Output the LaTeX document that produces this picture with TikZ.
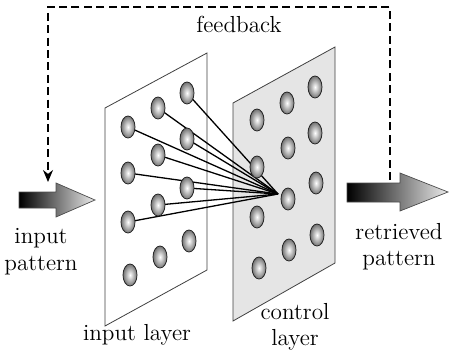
\documentclass[tikz,border=0pt]{standalone}
\usetikzlibrary{shapes.geometric,arrows.meta}
\begin{document}
\begin{tikzpicture}[x=0.5pt,y=-0.5pt,
  plane/.style={draw=black!75,line width=0.4pt},
  ball/.style={ellipse,minimum width=7pt,minimum height=11pt,inner sep=0pt,
    draw=black!85,line width=0.4pt,shading=radial,inner color=white,outer color=black!55},
  link/.style={draw=black,line width=0.65pt},
  bigarrow/.style={draw=black!70,line width=0.35pt,left color=black,right color=black!8},
  fb/.style={draw=black,line width=0.6pt,dash pattern=on 4pt off 2.2pt},
  lbl/.style={font=\fontsize{11.6}{13}\selectfont,inner sep=0pt,anchor=base}]
\useasboundingbox (0,0) rectangle (449,354);
% planes
\draw[plane,fill=white] (105,108) -- (207,53) -- (207,270) -- (105,326) -- cycle;
\draw[plane,fill=black!10] (233,103) -- (335,47) -- (335,263) -- (233,321) -- cycle;
% convergence point
\coordinate (conv) at (278,194);
% input layer balls (positions)
\coordinate (pa1) at (128,127); \coordinate (pa2) at (128,173); \coordinate (pa3) at (128,222); \coordinate (pa4) at (130,275);
\coordinate (pb1) at (158,108); \coordinate (pb2) at (158,155); \coordinate (pb3) at (158,205); \coordinate (pb4) at (160,257);
\coordinate (pc1) at (187,93);  \coordinate (pc2) at (187,139); \coordinate (pc3) at (187,188); \coordinate (pc4) at (189,241);
% links
\foreach \p in {pa1,pa2,pa3,pb1,pb2,pb3,pc1,pc2,pc3}
  \draw[link] (\p) -- (conv);
% input balls
\foreach \p in {pa1,pa2,pa3,pa4,pb1,pb2,pb3,pb4,pc1,pc2,pc3,pc4}
  \node[ball] (i\p) at (\p) {};
% control balls
\node[ball] (ca1) at (257,120) {};
\node[ball] (ca2) at (257,167) {};
\node[ball] (ca3) at (257,217) {};
\node[ball] (ca4) at (259,268) {};
\node[ball] (cb1) at (287,103) {};
\node[ball] (cb2) at (288,148) {};
\node[ball] (cb3) at (288,199) {};
\node[ball] (cb4) at (289,250) {};
\node[ball] (cc1) at (315,87) {};
\node[ball] (cc2) at (315,133) {};
\node[ball] (cc3) at (316,183) {};
\node[ball] (cc4) at (317,235) {};
% big arrows
\draw[bigarrow] (19,192) -- (56,192) -- (56,183) -- (95,200) -- (56,217) -- (56,208) -- (19,208) -- cycle;
\draw[bigarrow] (347,183) -- (400,183) -- (400,173) -- (448,192) -- (400,211) -- (400,202) -- (347,202) -- cycle;
% feedback
\coordinate (fbS) at (390,180);
\coordinate (fbE) at (48,182);
\draw[fb,-{Stealth[length=6pt,width=5pt]}] (fbS) -- (390,7) -- (48,7) -- (fbE);
% labels
\node[lbl] (tfb) at (239,32) {feedback};
\node[lbl] (tin1) at (41,243) {input};
\node[lbl] (tin2) at (41,270) {pattern};
\node[lbl] (tre1) at (399,239) {retrieved};
\node[lbl] (tre2) at (399,265) {pattern};
\node[lbl] (til) at (137,340) {input layer};
\node[lbl] (tcl1) at (295,319) {control};
\node[lbl] (tcl2) at (295,345) {layer};
\end{tikzpicture}
\end{document}
